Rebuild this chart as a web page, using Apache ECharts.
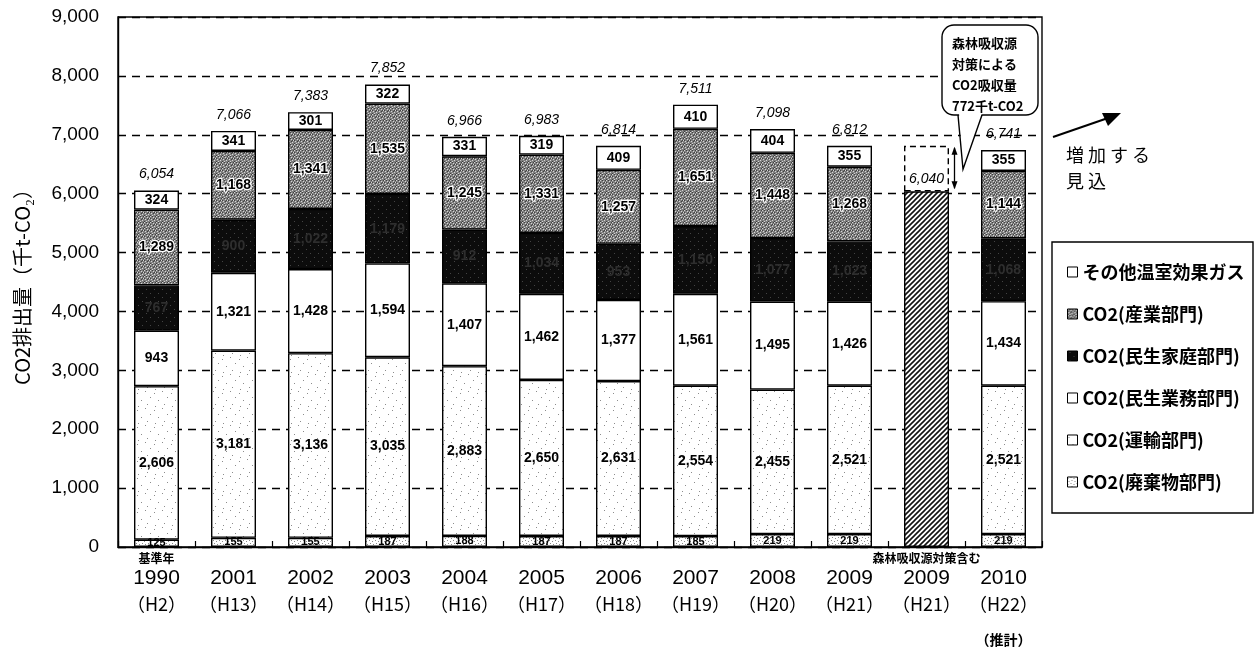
<!DOCTYPE html>
<html>
<head>
<meta charset="utf-8">
<script src="https://cdn.jsdelivr.net/npm/echarts@6/dist/echarts.min.js"></script>
<style>
  html, body { margin: 0; padding: 0; background: #fff; }
  #chart { width: 1258px; height: 654px; }
</style>
</head>
<body>
<div id="chart"></div>
<script>
// 年度ラベル（西暦・和暦・補足）
const years = ['1990', '2001', '2002', '2003', '2004', '2005', '2006', '2007', '2008', '2009', '2009', '2010'];
const eras = ['（H2）', '（H13）', '（H14）', '（H15）', '（H16）', '（H17）', '（H18）', '（H19）', '（H20）', '（H21）', '（H21）', '（H22）'];
const notes = ['基準年', '', '', '', '', '', '', '', '', '', '森林吸収源対策含む', ''];

// 部門別排出量（千t-CO2）
const waste      = [125, 155, 155, 187, 188, 187, 187, 185, 219, 219, null, 219];
const transport  = [2606, 3181, 3136, 3035, 2883, 2650, 2631, 2554, 2455, 2521, null, 2521];
const commercial = [943, 1321, 1428, 1594, 1407, 1462, 1377, 1561, 1495, 1426, null, 1434];
const household  = [767, 900, 1022, 1179, 912, 1034, 953, 1150, 1077, 1023, null, 1068];
const industry   = [1289, 1168, 1341, 1535, 1245, 1331, 1257, 1651, 1448, 1268, null, 1144];
const otherGas   = [324, 341, 301, 322, 331, 319, 409, 410, 404, 355, null, 355];
const totals     = [6054, 7066, 7383, 7852, 6966, 6983, 6814, 7511, 7098, 6812, null, 6741];

// 森林吸収源対策を含む2009年度の値と吸収量
const withForest = [null, null, null, null, null, null, null, null, null, null, 6040, null];
const forestSink = [null, null, null, null, null, null, null, null, null, null, 772, null];

const yTicks = [0, 1000, 2000, 3000, 4000, 5000, 6000, 7000, 8000, 9000];

const fmt = v => Number(v).toLocaleString('en-US');
const asData = arr => arr.map(v => (v == null ? '-' : v));

// 塗りつぶし用のパターン
function makePattern(size, draw) {
  const c = document.createElement('canvas');
  c.width = c.height = size;
  draw(c.getContext('2d'), size);
  return { image: c, repeat: 'repeat' };
}
const hatchFill = makePattern(5, (g, s) => {
  g.fillStyle = '#fff'; g.fillRect(0, 0, s, s);
  g.strokeStyle = '#111'; g.lineWidth = 1.6; g.beginPath();
  g.moveTo(-1, s + 1); g.lineTo(s + 1, -1);
  g.moveTo(-1, 1); g.lineTo(1, -1);
  g.moveTo(s - 1, s + 1); g.lineTo(s + 1, s - 1);
  g.stroke();
});
const industryFill = makePattern(6, (g, s) => {
  g.fillStyle = '#808080'; g.fillRect(0, 0, s, s);
  g.fillStyle = '#d6d6d6';
  [[0, 0], [3, 1], [1, 3], [4, 4], [2, 5], [5, 2]].forEach(([x, y]) => g.fillRect(x, y, 1, 1));
  g.fillStyle = '#404040';
  [[2, 0], [5, 0], [0, 2], [4, 2], [3, 3], [0, 5]].forEach(([x, y]) => g.fillRect(x, y, 1, 1));
});
const transportFill = makePattern(17, (g, s) => {
  g.fillStyle = '#fff'; g.fillRect(0, 0, s, s);
  g.fillStyle = '#8c8c8c';
  [[1, 2], [9, 0], [14, 6], [5, 9], [11, 13], [2, 15]].forEach(([x, y]) => g.fillRect(x, y, 1, 1));
});
const wasteFill = makePattern(6, (g, s) => {
  g.fillStyle = '#fff'; g.fillRect(0, 0, s, s);
  g.fillStyle = '#8a8a8a';
  [[0, 1], [3, 0], [4, 3], [1, 4]].forEach(([x, y]) => g.fillRect(x, y, 1, 1));
});
const householdFill = makePattern(8, (g, s) => {
  g.fillStyle = '#0c0c0c'; g.fillRect(0, 0, s, s);
  g.fillStyle = '#444';
  [[2, 1], [6, 5]].forEach(([x, y]) => g.fillRect(x, y, 1, 1));
});

const barBorder = { borderColor: '#000', borderWidth: 1.4 };
const segLabel = (extra) => Object.assign({
  show: true, position: 'inside', fontSize: 14, fontWeight: 'bold',
  fontFamily: 'Liberation Sans', color: '#000',
  formatter: p => fmt(p.value)
}, extra || {});

function segment(name, data, fill, labelExtra) {
  return {
    name, type: 'bar', stack: 'a', barWidth: 45,
    data: asData(data),
    itemStyle: Object.assign({ color: fill }, barBorder),
    label: segLabel(labelExtra)
  };
}

const chart = echarts.init(document.getElementById('chart'), null, { renderer: 'canvas' });

const option = {
  backgroundColor: '#fff',
  animation: false,
  grid: { left: 118, right: 216, top: 17, bottom: 107, show: true, borderColor: '#000', borderWidth: 1.4, backgroundColor: 'transparent' },
  legend: {
    orient: 'vertical', left: 1062, top: 258, selectedMode: false,
    icon: 'rect', itemWidth: 10, itemHeight: 10, itemGap: 24,
    itemStyle: { borderColor: '#000', borderWidth: 1 },
    textStyle: { fontSize: 18, fontWeight: 'bold', fontFamily: 'Noto Sans CJK JP', color: '#000' },
    data: ['その他温室効果ガス', 'CO2(産業部門)', 'CO2(民生家庭部門)', 'CO2(民生業務部門)', 'CO2(運輸部門)', 'CO2(廃棄物部門)']
  },
  xAxis: {
    type: 'category',
    data: years.map((y, i) => 'c' + i),
    axisLine: { lineStyle: { color: '#000', width: 1.4 } },
    axisTick: { show: true, inside: true, length: 6, lineStyle: { color: '#000', width: 1.2 } },
    axisLabel: {
      interval: 0, margin: 3, color: '#000',
      formatter: (v, i) => `{n|${notes[i] || ' '}}\n{y|${years[i]}}\n{h|${eras[i]}}` + (i === 11 ? '\n{e|（推計）}' : ''),
      rich: {
        n: { fontSize: 12, fontWeight: 'bold', fontFamily: 'Noto Sans CJK JP', lineHeight: 16, color: '#000' },
        y: { fontSize: 21, fontFamily: 'Liberation Sans', lineHeight: 24, color: '#000' },
        h: { fontSize: 18, fontFamily: 'Noto Sans CJK JP', lineHeight: 28, color: '#000' },
        e: { fontSize: 14, fontWeight: 'bold', fontFamily: 'Noto Sans CJK JP', lineHeight: 44, color: '#000' }
      }
    }
  },
  yAxis: {
    type: 'value', min: 0, max: 9000, interval: 1000,
    name: 'CO2排出量（千t-CO₂）', nameLocation: 'middle', nameGap: 86, nameRotate: 90,
    nameTextStyle: { fontSize: 20, fontFamily: 'Noto Sans CJK JP', color: '#000' },
    axisLine: { show: true, lineStyle: { color: '#000', width: 1.4 } },
    axisTick: { show: true, inside: true, length: 5, lineStyle: { color: '#000' } },
    axisLabel: {
      margin: 19, fontSize: 19, fontFamily: 'Liberation Sans', color: '#000',
      formatter: v => (yTicks.includes(v) ? fmt(v) : '')
    },
    splitLine: { show: true, lineStyle: { color: '#000', width: 1.3, type: [8, 6] } }
  },
  series: [
    segment('CO2(廃棄物部門)', waste, wasteFill, { fontSize: 11 }),
    segment('CO2(運輸部門)', transport, transportFill),
    segment('CO2(民生業務部門)', commercial, '#fff'),
    segment('CO2(民生家庭部門)', household, householdFill, { color: '#2e2e2e' }),
    segment('CO2(産業部門)', industry, industryFill, { color: '#000', textBorderColor: '#fff', textBorderWidth: 2.5 }),
    segment('その他温室効果ガス', otherGas, '#fff'),
    {
      name: '森林吸収源対策含む', type: 'bar', stack: 'a', barWidth: 45,
      data: asData(withForest),
      itemStyle: Object.assign({ color: hatchFill }, barBorder),
      label: { show: true, position: 'top', distance: 5, fontSize: 14, fontStyle: 'italic', fontFamily: 'Liberation Sans', color: '#000', formatter: p => fmt(p.value) }
    },
    {
      name: '森林吸収量', type: 'bar', stack: 'a', barWidth: 45,
      data: asData(forestSink),
      itemStyle: { color: 'rgba(0,0,0,0)', borderColor: '#000', borderWidth: 1.4, borderType: [6, 4] },
      label: { show: false }
    },
    {
      name: '合計', type: 'bar', stack: 'a', barWidth: 45,
      data: totals.map(v => (v == null ? '-' : 0)),
      itemStyle: { color: 'rgba(0,0,0,0)', borderWidth: 0 },
      label: {
        show: true, position: 'top', distance: 9, fontSize: 14, fontStyle: 'italic',
        fontFamily: 'Liberation Sans', color: '#000',
        formatter: p => fmt(totals[p.dataIndex])
      }
    }
  ]
};
chart.setOption(option);

// 吸収量を示す両矢印と吹き出し、凡例枠、増加見込みの注記
const iForest = withForest.findIndex(v => v != null);
const pTop = chart.convertToPixel({ xAxisIndex: 0, yAxisIndex: 0 }, [iForest, withForest[iForest] + forestSink[iForest]]);
const pBot = chart.convertToPixel({ xAxisIndex: 0, yAxisIndex: 0 }, [iForest, withForest[iForest]]);
const ax = pTop[0] + 28;

chart.setOption({
  graphic: [
    // 凡例枠
    { type: 'rect', shape: { x: 1052, y: 242, width: 201, height: 271 }, style: { fill: 'none', stroke: '#000', lineWidth: 1.4 }, z: 1 },
    // 両矢印
    { type: 'line', shape: { x1: ax, y1: pTop[1] + 2, x2: ax, y2: pBot[1] - 3 }, style: { stroke: '#000', lineWidth: 1.3 }, z: 20 },
    { type: 'polygon', shape: { points: [[ax - 3, pTop[1] + 9], [ax, pTop[1] + 1], [ax + 3, pTop[1] + 9]] }, style: { fill: '#000' }, z: 20 },
    { type: 'polygon', shape: { points: [[ax - 3, pBot[1] - 10], [ax, pBot[1] - 2], [ax + 3, pBot[1] - 10]] }, style: { fill: '#000' }, z: 20 },
    // 吹き出し
    { type: 'rect', shape: { x: 942, y: 25, width: 96, height: 90, r: 12 }, style: { fill: '#fff', stroke: '#000', lineWidth: 1.4 }, z: 20 },
    { type: 'polygon', shape: { points: [[959, 113], [982, 113], [963, pBot[1] - 22]] }, style: { fill: '#fff' }, z: 21 },
    { type: 'polyline', shape: { points: [[958, 115], [963, pBot[1] - 22], [982, 115]] }, style: { stroke: '#000', lineWidth: 1.4, fill: null }, z: 21 },
    {
      type: 'text', x: 952, y: 33, z: 22,
      style: { text: '森林吸収源\n対策による\nCO2吸収量\n772千t-CO2', fontSize: 13, fontWeight: 'bold', fontFamily: 'Noto Sans CJK JP', lineHeight: 21, fill: '#000' }
    },
    // 増加見込み
    { type: 'line', shape: { x1: 1053, y1: 137, x2: 1108, y2: 118 }, style: { stroke: '#000', lineWidth: 2 }, z: 20 },
    { type: 'polygon', shape: { points: [[1121, 113], [1102, 113], [1108, 126]] }, style: { fill: '#000' }, z: 20 },
    {
      type: 'text', x: 1066, y: 142, z: 20,
      style: { text: '増 加 す る\n見 込', fontSize: 18, fontFamily: 'Noto Sans CJK JP', lineHeight: 26, fill: '#000' }
    }
  ]
});
</script>
</body>
</html>
